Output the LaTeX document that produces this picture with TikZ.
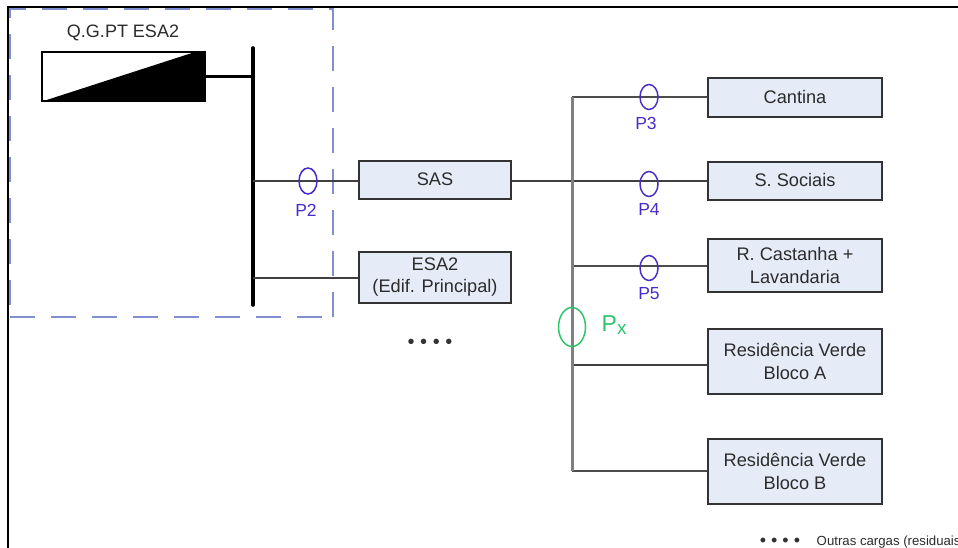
\documentclass[tikz,border=0pt]{standalone}
\usepackage{fontspec}
\setmainfont{Liberation Sans}
\usetikzlibrary{shapes.geometric}
\definecolor{boxfill}{HTML}{E6ECF7}
\definecolor{probeblue}{HTML}{4A2BC8}
\definecolor{probegreen}{HTML}{2DC46A}
\definecolor{panelblue}{HTML}{7F8FD0}
\definecolor{txtgrey}{HTML}{2B2B2B}

\begin{document}
\begin{tikzpicture}[x=1pt,y=-1pt,style=thick,
    load/.style={draw=black!80,line width=1.4pt,fill=boxfill,text=txtgrey,minimum width=174pt,align=center,font=\fontsize{18.2}{23}\selectfont},
    panel/.style={draw=black!80,line width=1.4pt,fill=boxfill,text=txtgrey,minimum width=152pt,align=center,font=\fontsize{18.2}{23}\selectfont},
    probe/.style={draw=probeblue,ellipse,line width=1.5pt,inner sep=0pt,minimum width=18pt,minimum height=25pt},
    probelabel/.style={text=probeblue,font=\fontsize{17.5}{20}\selectfont},
    feed/.style={line width=1.5pt,draw=black!75},
    trunk/.style={line width=3pt,draw=black!50}]

    \useasboundingbox (0,0) rectangle (958,548);

    % frame and dashed panel
    \coordinate (FL) at (8,548);
    \coordinate (FT) at (8,7);
    \coordinate (FR) at (958,7);
    \draw[black,line width=1.6pt] (FL) -- (FT) -- (FR);
    \draw[panelblue,line width=1.6pt,dash pattern=on 25pt off 16pt] (10,317) -- (333,317);
    \draw[panelblue,line width=1.6pt,dash pattern=on 25pt off 16pt] (333,317) -- (333,9) -- (10,9) -- (10,317);

    \begin{scope}
        \node[draw=black,line width=1.5pt,fill=white,minimum width=163pt,minimum height=49pt,inner sep=0pt] (QG) at (123.5,76.5) {};
        \fill[black] (QG.south west) -- (195,52) -- (QG.north east) -- (QG.south east) -- cycle;
        \node[text=txtgrey,font=\fontsize{18}{20}\selectfont] (QGL) at (123,33) {Q.G.PT ESA2};

        \coordinate (BT) at (253,48);
        \coordinate (BB) at (253,305);
        \draw[black,line width=3.6pt,line cap=round] (BT) -- (BB);
        \coordinate (B1) at (253,77);
        \coordinate (B2) at (253,181);
        \coordinate (B3) at (253,278);
        \draw[black,line width=3pt] (QG.east |- B1) -- (B1);
    \end{scope}

    \node[panel,minimum height=38pt] (SAS) at (435,180) {\raisebox{1.5pt}{SAS}};
    \node[panel,minimum height=51pt] (ESA) at (435,277.5) {\raisebox{1pt}{ESA2}\\[-1pt]\raisebox{1pt}{(Edif. Principal)}};
    \node[font=\fontsize{20}{22}\selectfont,text=black!80] (DOTS) at (430,344) {• • • •};
    \draw[feed] (B2) -- (SAS.west |- B2);
    \draw[feed] (B3) -- (ESA.west |- B3);

    \node[probe,minimum width=18pt,minimum height=26pt] (P2) at (308,181) {};
    \node[probelabel] (P2L) at (306,210) {P2};

    \begin{scope}
        \node[load,minimum height=39pt] (CAN) at (795,97.5) {\raisebox{1.5pt}{Cantina}};
        \node[load,minimum height=38pt] (SOC) at (795,181) {\raisebox{1.5pt}{S. Sociais}};
        \node[load,minimum height=53pt] (CAS) at (795,265.5) {\raisebox{1pt}{R. Castanha +}\\\raisebox{1pt}{Lavandaria}};
        \node[load,minimum height=65pt] (RVA) at (795,361.5) {\raisebox{1pt}{Residência Verde}\\\raisebox{1pt}{Bloco A}};
        \node[load,minimum height=65pt] (RVB) at (795,471.5) {\raisebox{1pt}{Residência Verde}\\\raisebox{1pt}{Bloco B}};

        \coordinate (T1) at (572,97);
        \coordinate (T2) at (572,266);
        \coordinate (T3) at (572,365);
        \coordinate (T4) at (572,471);
        \draw[feed,draw=black!70] (T1) -- (CAN.west |- T1);
        \draw[feed] (SOC.west -| SAS.east) -- (SOC.west);
        \draw[feed,draw=black!70] (T2) -- (CAS.west |- T2);
        \draw[feed] (T3) -- (RVA.west |- T3);
        \draw[feed,draw=black!70] (T4) -- (RVB.west |- T4);
        \draw[trunk] (T1) -- (T4);

        \node[probe] (P3) at (649,97) {};
        \node[probe] (P4) at (649,184) {};
        \node[probe] (P5) at (649,268) {};
        \node[probelabel] (P3L) at (646,123) {P3};
        \node[probelabel] (P4L) at (649,209) {P4};
        \node[probelabel] (P5L) at (649,294) {P5};

        \node[probe,draw=probegreen,minimum width=27pt,minimum height=39pt] (PX) at (572,327) {};
        \node[text=probegreen,font=\fontsize{23}{24}\selectfont,anchor=west] (PXL) at (598,325) {P\raisebox{-3pt}{\fontsize{19}{20}\selectfont x}};
    \end{scope}

    % note, cut by the page edge
    \node[font=\fontsize{18}{20}\selectfont,text=black!80] (NOTED) at (780,542) {• • • •};
    \node[font=\fontsize{13.2}{15}\selectfont,text=txtgrey,anchor=west] (NOTE) at (813,542) {Outras cargas (residuais};

\end{tikzpicture}
\end{document}
